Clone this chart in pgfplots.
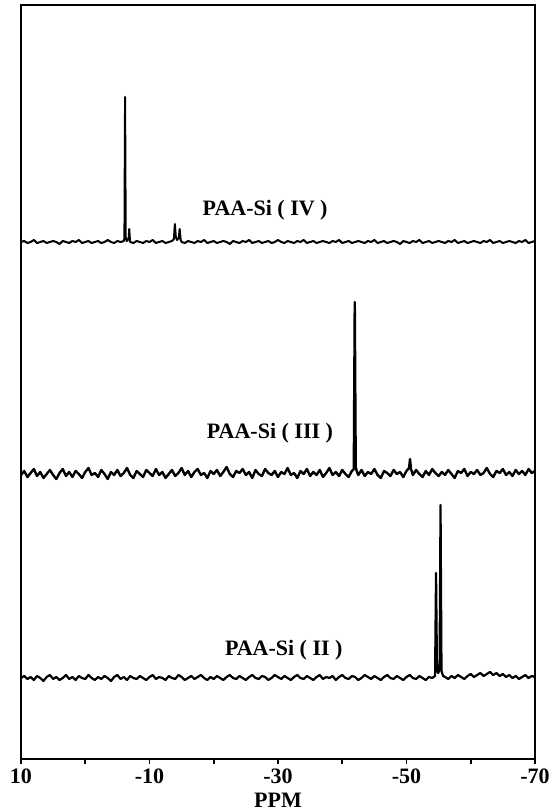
\documentclass[border=0pt]{standalone}
\usepackage{fontspec}
\setmainfont{Liberation Serif}
\usepackage{pgfplots}
\pgfplotsset{compat=1.18}
\begin{document}
\begin{tikzpicture}
\begin{axis}[
 at={(0,0)}, anchor=south west,
 scale only axis, width=257pt, height=377pt,
 x dir=reverse, xmin=-70, xmax=10, ymin=0, ymax=754,
 xtick={10,0,-10,-20,-30,-40,-50,-60,-70},
 xticklabels={10,,-10,,-30,,-50,,-70},
 ytick=\empty,
 xtick pos=bottom, tick align=outside, major tick length=2.5pt,
 tick style={line width=0.8pt, black},
 /pgf/number format/assume math mode=true,
 ticklabel style={font=\bfseries\fontsize{11}{12}\selectfont, yshift=1pt},
 xlabel={PPM}, xlabel style={font=\bfseries\fontsize{11}{12}\selectfont, yshift=2.5pt},
 axis line style={line width=0.9pt},
 clip=false,
 cycle list={{black, no markers, line width=1pt, line join=round}},
]
% PAA-Si (IV)
\addplot+[black, no markers, line width=1pt, line join=round] coordinates {(10,517)(9.5,518)(9,516)(8.5,517)(8,519)(7.5,516)(7,517)(6.5,518)(6,516)(5.5,517)(5,518)(4.5,517)(4,515)(3.5,518)(3,517)(2.5,516)(2,518)(1.5,517)(1,519)(0.5,516)(0,517)(-0.5,518)(-1,516)(-1.5,517)(-2,518)(-2.5,516)(-3,517)(-3.5,519)(-4,517)(-4.5,516)(-5,518)(-5.5,517)(-6,518)(-6.1,521)(-6.2,662)(-6.3,522)(-6.45,518)(-6.75,520)(-6.85,530)(-6.95,519)(-7,517)(-7.5,516)(-8,518)(-8.5,517)(-9,516)(-9.5,518)(-10,517)(-10.5,519)(-11,516)(-11.5,517)(-12,518)(-12.5,516)(-13,517)(-13.5,518)(-13.8,520)(-13.95,535)(-14.1,522)(-14.3,519)(-14.55,521)(-14.7,530)(-14.85,519)(-15,517)(-15.5,516)(-16,518)(-16.5,517)(-17,516)(-17.5,518)(-18,517)(-18.5,519)(-19,516)(-19.5,517)(-20,518)(-20.5,516)(-21,517)(-21.5,518)(-22,517)(-22.5,515)(-23,518)(-23.5,517)(-24,516)(-24.5,518)(-25,517)(-25.5,519)(-26,516)(-26.5,517)(-27,518)(-27.5,516)(-28,517)(-28.5,518)(-29,516)(-29.5,517)(-30,519)(-30.5,517)(-31,516)(-31.5,518)(-32,517)(-32.5,516)(-33,518)(-33.5,517)(-34,519)(-34.5,516)(-35,517)(-35.5,518)(-36,516)(-36.5,517)(-37,518)(-37.5,517)(-38,516)(-38.5,518)(-39,517)(-39.5,519)(-40,516)(-40.5,517)(-41,518)(-41.5,516)(-42,517)(-42.5,518)(-43,517)(-43.5,516)(-44,518)(-44.5,517)(-45,519)(-45.5,516)(-46,517)(-46.5,518)(-47,516)(-47.5,517)(-48,518)(-48.5,517)(-49,515)(-49.5,518)(-50,517)(-50.5,516)(-51,518)(-51.5,517)(-52,519)(-52.5,516)(-53,517)(-53.5,518)(-54,516)(-54.5,517)(-55,518)(-55.5,517)(-56,516)(-56.5,518)(-57,517)(-57.5,519)(-58,516)(-58.5,517)(-59,518)(-59.5,516)(-60,517)(-60.5,518)(-61,517)(-61.5,516)(-62,518)(-62.5,517)(-63,519)(-63.5,516)(-64,517)(-64.5,518)(-65,516)(-65.5,517)(-66,518)(-66.5,517)(-67,516)(-67.5,518)(-68,517)(-68.5,519)(-69,516)(-69.5,517)(-70,518)};
% PAA-Si (III)
\addplot+[black, no markers, line width=1.2pt, line join=round] coordinates {(10,284)(9.5,288)(9,282)(8.5,286)(8,290)(7.5,283)(7,287)(6.5,281)(6,285)(5.5,289)(5,284)(4.5,280)(4,286)(3.5,290)(3,283)(2.5,287)(2,282)(1.5,288)(1,285)(0.5,281)(0,287)(-0.5,291)(-1,284)(-1.5,286)(-2,282)(-2.5,289)(-3,285)(-3.5,280)(-4,287)(-4.5,284)(-5,289)(-5.5,283)(-6,286)(-6.5,291)(-7,284)(-7.5,281)(-8,288)(-8.5,285)(-9,282)(-9.5,289)(-10,286)(-10.5,283)(-11,290)(-11.5,284)(-12,287)(-12.5,281)(-13,285)(-13.5,289)(-14,283)(-14.5,286)(-15,291)(-15.5,284)(-16,288)(-16.5,282)(-17,287)(-17.5,290)(-18,284)(-18.5,286)(-19,281)(-19.5,288)(-20,285)(-20.5,289)(-21,283)(-21.5,287)(-22,292)(-22.5,285)(-23,282)(-23.5,288)(-24,286)(-24.5,290)(-25,284)(-25.5,287)(-26,281)(-26.5,289)(-27,285)(-27.5,283)(-28,290)(-28.5,286)(-29,284)(-29.5,288)(-30,282)(-30.5,287)(-31,285)(-31.5,291)(-32,284)(-32.5,286)(-33,281)(-33.5,288)(-34,285)(-34.5,290)(-35,283)(-35.5,287)(-36,284)(-36.5,289)(-37,282)(-37.5,286)(-38,291)(-38.5,284)(-39,287)(-39.5,283)(-40,289)(-40.5,285)(-41,282)(-41.5,288)(-41.8,290)(-41.95,457)(-42.1,292)(-42.3,287)(-42.5,284)(-43,289)(-43.5,283)(-44,287)(-44.5,285)(-45,290)(-45.5,284)(-46,281)(-46.5,288)(-47,286)(-47.5,283)(-48,289)(-48.5,285)(-49,287)(-49.5,282)(-50,288)(-50.4,291)(-50.55,300)(-50.7,290)(-51,284)(-51.5,289)(-52,285)(-52.5,282)(-53,288)(-53.5,284)(-54,290)(-54.5,286)(-55,283)(-55.5,287)(-56,284)(-56.5,289)(-57,285)(-57.5,281)(-58,288)(-58.5,286)(-59,290)(-59.5,283)(-60,287)(-60.5,285)(-61,289)(-61.5,284)(-62,286)(-62.5,291)(-63,285)(-63.5,282)(-64,288)(-64.5,286)(-65,290)(-65.5,284)(-66,287)(-66.5,283)(-67,289)(-67.5,285)(-68,288)(-68.5,284)(-69,290)(-69.5,286)(-70,288)};
% PAA-Si (II)
\addplot+[black, no markers, line width=1.1pt, line join=round] coordinates {(10,81)(9.5,83)(9,80)(8.5,82)(8,79)(7.5,83)(7,81)(6.5,78)(6,82)(5.5,84)(5,80)(4.5,82)(4,79)(3.5,81)(3,84)(2.5,80)(2,82)(1.5,79)(1,83)(0.5,81)(0,80)(-0.5,84)(-1,81)(-1.5,79)(-2,82)(-2.5,80)(-3,83)(-3.5,81)(-4,78)(-4.5,82)(-5,84)(-5.5,80)(-6,82)(-6.5,79)(-7,83)(-7.5,81)(-8,80)(-8.5,83)(-9,81)(-9.5,79)(-10,82)(-10.5,84)(-11,80)(-11.5,82)(-12,81)(-12.5,79)(-13,83)(-13.5,81)(-14,80)(-14.5,84)(-15,82)(-15.5,79)(-16,81)(-16.5,83)(-17,80)(-17.5,82)(-18,84)(-18.5,81)(-19,79)(-19.5,82)(-20,80)(-20.5,83)(-21,81)(-21.5,79)(-22,82)(-22.5,84)(-23,81)(-23.5,80)(-24,83)(-24.5,81)(-25,79)(-25.5,82)(-26,84)(-26.5,81)(-27,80)(-27.5,83)(-28,82)(-28.5,79)(-29,81)(-29.5,84)(-30,82)(-30.5,80)(-31,83)(-31.5,81)(-32,79)(-32.5,82)(-33,84)(-33.5,81)(-34,80)(-34.5,83)(-35,81)(-35.5,79)(-36,82)(-36.5,84)(-37,80)(-37.5,82)(-38,81)(-38.5,83)(-39,79)(-39.5,82)(-40,84)(-40.5,81)(-41,80)(-41.5,83)(-42,82)(-42.5,79)(-43,81)(-43.5,84)(-44,82)(-44.5,80)(-45,83)(-45.5,81)(-46,79)(-46.5,82)(-47,84)(-47.5,81)(-48,80)(-48.5,83)(-49,81)(-49.5,79)(-50,82)(-50.5,84)(-51,81)(-51.5,80)(-52,83)(-52.5,81)(-53,79)(-53.5,82)(-54,81)(-54.45,83)(-54.6,186)(-54.75,88)(-54.95,86)(-55.15,90)(-55.3,254)(-55.45,88)(-55.7,83)(-56,82)(-56.5,80)(-57,83)(-57.5,81)(-58,84)(-58.5,82)(-59,80)(-59.5,83)(-60,85)(-60.5,82)(-61,84)(-61.5,86)(-62,83)(-62.5,85)(-63,87)(-63.5,84)(-64,86)(-64.5,83)(-65,85)(-65.5,82)(-66,84)(-66.5,81)(-67,83)(-67.5,80)(-68,82)(-68.5,84)(-69,81)(-69.5,83)(-70,82)};
\node[font=\bfseries\fontsize{11}{12}\selectfont] at (axis cs:-28,549) {PAA-Si ( IV )};
\node[font=\bfseries\fontsize{11}{12}\selectfont] at (axis cs:-28.75,326) {PAA-Si ( III )};
\node[font=\bfseries\fontsize{11}{12}\selectfont] at (axis cs:-30.9,109) {PAA-Si ( II )};
\draw[line width=1pt] (rel axis cs:0,0) rectangle (rel axis cs:1,1);
\end{axis}
\pgfresetboundingbox
\path[use as bounding box] (-10.5pt,-25.5pt) rectangle (266pt,379.5pt);
\end{tikzpicture}
\end{document}
